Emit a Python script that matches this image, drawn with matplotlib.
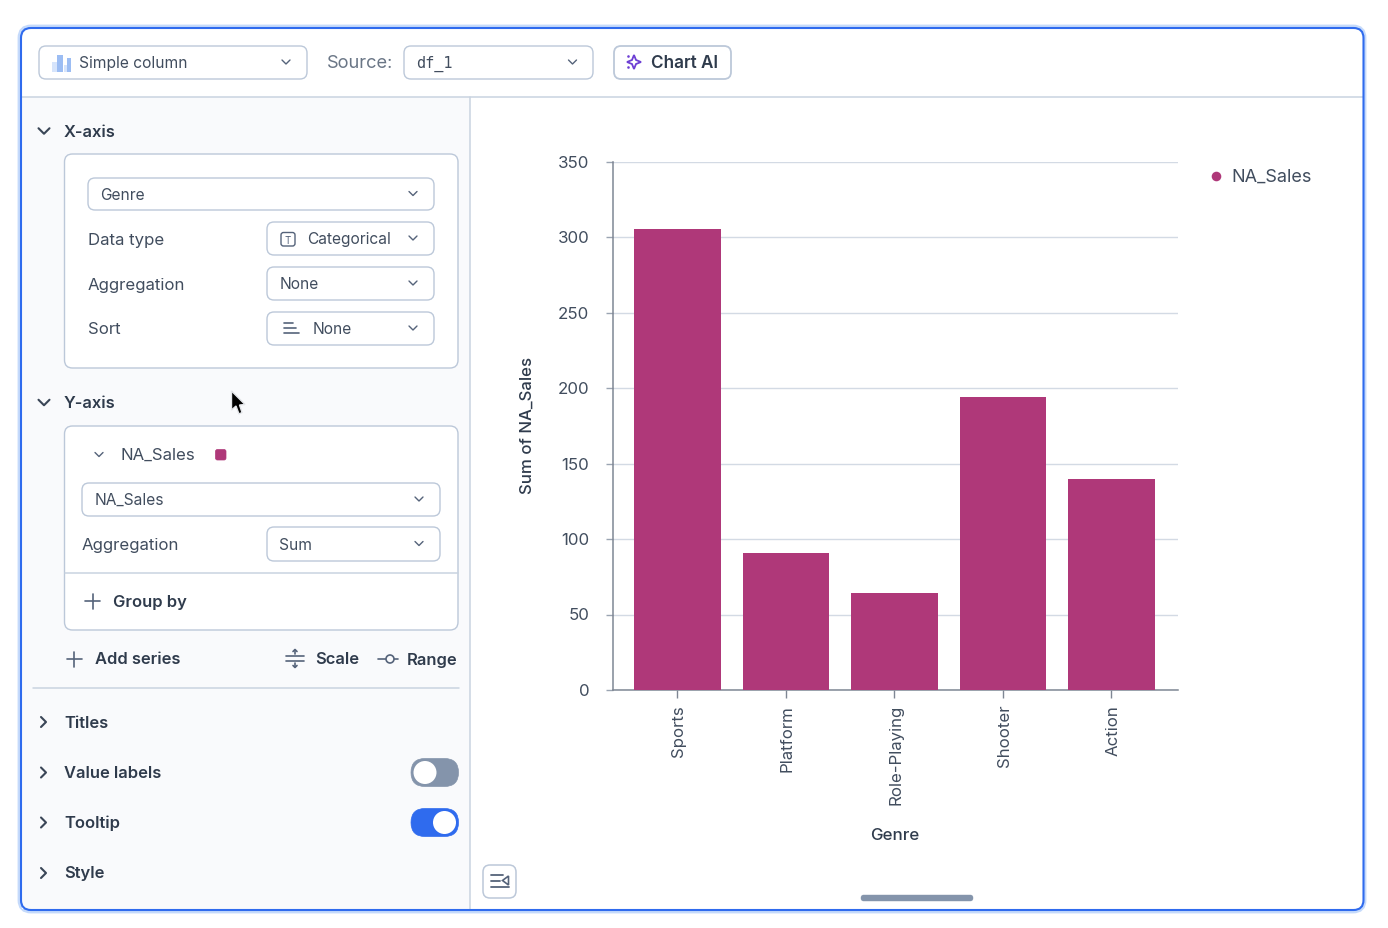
import matplotlib
matplotlib.use("Agg")
import matplotlib.pyplot as plt
from matplotlib.patches import FancyBboxPatch, Rectangle, Circle, Polygon
from matplotlib.transforms import ScaledTranslation

W, H = 1388, 929

plt.rcParams["font.family"] = ["Inter", "DejaVu Sans"]

# chart data
genres = ["Sports", "Platform", "Role-Playing", "Shooter", "Action"]
na_sales = [305.5, 91, 64.5, 194.5, 140]
y_ticks = [0, 50, 100, 150, 200, 250, 300, 350]

BAR = "#AF3879"
BLUE = "#2F6BEE"
BORDER = "#BCC8D9"
LINE = "#C9D3E0"
TXT = "#2F3B4C"
TXT2 = "#414D5E"
GREY = "#8494AB"
PANEL = "#F9FAFC"
ROW = 12.1  # label size in the settings panel
HEAD = 11.9  # semibold headings

fig = plt.figure(figsize=(W / 100, H / 100), dpi=100, facecolor="white")

# overlay in pixel coords for the app chrome
ui = fig.add_axes([0, 0, 1, 1], zorder=0)
ui.set_xlim(0, W)
ui.set_ylim(H - 1, -1)
ui.axis("off")


def rbox(x0, y0, x1, y1, r=7, fc="white", ec=BORDER, lw=1.0, z=2):
    p = FancyBboxPatch((x0 + r, y0 + r), x1 - x0 - 2 * r, y1 - y0 - 2 * r,
                       boxstyle=f"round,pad={r},rounding_size={r}",
                       fc=fc, ec=ec, lw=lw, zorder=z)
    ui.add_patch(p)
    return p


def line(xs, ys, color=GREY, lw=1.2, z=4):
    ui.plot(xs, ys, color=color, lw=lw, zorder=z, solid_capstyle="round",
            solid_joinstyle="round")


def label(x, y, s, size=11, color=TXT2, weight="normal", ha="left", **kw):
    ui.text(x, y, s, fontsize=size, color=color, fontweight=weight, ha=ha,
            va="center", zorder=5, **kw)


def chev_down(x, y, s=4, color="#55637A", lw=1.0):
    line([x - s, x, x + s], [y - s * 0.5, y + s * 0.5, y - s * 0.5], color, lw)


def chev_right(x, y, s=5, color="#3A4657", lw=1.5):
    line([x - s * 0.5, x + s * 0.5, x - s * 0.5], [y - s, y, y + s], color, lw)


def dropdown(x0, y0, x1, y1, s, tx=None, size=11.2):
    rbox(x0, y0, x1, y1)
    label(tx if tx else x0 + 12.5, (y0 + y1) / 2, s, size=size)
    chev_down(x1 - 21, (y0 + y1) / 2 - 0.5)


def plus(x, y, s=7.5, color="#55637A"):
    line([x - s, x + s], [y, y], color, 1.2)
    line([x, x], [y - s, y + s], color, 1.2)


def toggle(x0, x1, y, on):
    col = BLUE if on else GREY
    rbox(x0, y - 14, x1, y + 14, r=14, fc=col, ec=col, lw=0.5)
    ui.add_patch(Circle((x1 - 14 if on else x0 + 14, y), 11.5, fc="white", ec="none", zorder=4))


# outer card
rbox(20, 27, 1364, 911, r=11, fc="none", ec="#C5DAFB", lw=3.5, z=1)
rbox(21, 28, 1363.5, 910, r=10, fc="white", ec="none", lw=0, z=1)
rbox(21, 28, 1363.5, 910, r=10, fc="none", ec=BLUE, lw=1.5, z=6)

# left panel
ui.add_patch(Rectangle((22, 97), 448, 812, fc=PANEL, ec="none", zorder=1.5))
line([22, 1363], [96.5, 96.5], LINE, 1.1, z=2)
line([470.5, 470.5], [97, 909], LINE, 1.1, z=2)

# top toolbar
dropdown(39, 46, 307, 79, "Simple column", tx=79)
ui.add_patch(Rectangle((52, 62), 7, 10, fc="#D6E4FB", ec="none", zorder=4))
ui.add_patch(Rectangle((57, 55), 6, 17, fc="#9CBDF3", ec="none", zorder=4))
ui.add_patch(Rectangle((64, 65), 3.5, 7, fc="#D6E4FB", ec="none", zorder=4))
ui.add_patch(Rectangle((67.5, 58), 4, 14, fc="#9CBDF3", ec="none", zorder=4))
label(327, 62.5, "Source:", size=13.2, color="#6A7686")
rbox(404, 46, 593, 79)
label(416, 62.5, "df_1", size=11, family="DejaVu Sans Mono")
chev_down(572.5, 62)
rbox(614, 46, 731, 79, lw=1.3)
label(651, 62, "Chart AI", size=12.3, color=TXT, weight="semibold")
ui.add_patch(Polygon([(634, 55), (636, 60), (641, 62), (636, 64), (634, 69), (632, 64),
                      (627, 62), (632, 60)], fc="white", ec="#6D3FD4", lw=1.3, zorder=4))
ui.add_patch(Circle((628.5, 56.5), 1.3, fc="#6D3FD4", ec="none", zorder=4))
ui.add_patch(Circle((628.5, 67.5), 1.3, fc="#6D3FD4", ec="none", zorder=4))

# X-axis section
chev_down(44, 131, s=5.5, color="#3A4657", lw=1.5)
label(64, 131, "X-axis", size=HEAD, color=TXT, weight="semibold")
rbox(64.5, 154, 458, 368, r=8)
dropdown(88, 178, 434, 210, "Genre")
label(88, 239, "Data type", size=ROW)
dropdown(267, 222, 434, 255, "Categorical", tx=307.5)
rbox(281, 232.5, 295, 246, r=2.5, ec="#55637A", lw=1, z=4)
label(288, 239.5, "T", size=7, color="#55637A", ha="center")
label(88, 284, "Aggregation", size=ROW)
dropdown(267, 267, 434, 300, "None")
label(88, 328.5, "Sort", size=ROW)
dropdown(267, 312, 434, 345, "None", tx=313)
line([284, 293], [323, 323], "#55637A", 1.2)
line([284, 296], [328, 328], "#55637A", 1.2)
line([284, 299], [333, 333], "#55637A", 1.2)

# Y-axis section
chev_down(44, 402.5, s=5.5, color="#3A4657", lw=1.5)
label(64, 402.5, "Y-axis", size=HEAD, color=TXT, weight="semibold")
rbox(64.5, 426, 458, 630, r=8)
chev_down(99, 454.5, s=4)
label(121, 454.5, "NA_Sales", size=ROW)
rbox(215.5, 449.5, 226, 460, r=2, fc=BAR, ec=BAR, lw=0.5, z=4)
dropdown(82, 483, 440, 516, "NA_Sales")
label(82, 544.5, "Aggregation", size=ROW)
dropdown(267, 527, 440, 561, "Sum")
line([65, 458], [572.5, 572.5], LINE, 1.1)
plus(93, 601)
label(113, 601.5, "Group by", size=HEAD, color=TXT, weight="semibold")

# series actions
plus(74.5, 659)
label(95, 659, "Add series", size=HEAD, color=TXT, weight="semibold")
line([286, 304], [656, 656], "#55637A", 1.2)
line([286, 304], [661, 661], "#55637A", 1.2)
line([295, 295], [650, 654], "#55637A", 1.2)
line([293, 295, 297], [651.5, 649.5, 651.5], "#55637A", 1.2)
line([295, 295], [663, 667], "#55637A", 1.2)
line([293, 295, 297], [665.5, 667.5, 665.5], "#55637A", 1.2)
label(315, 659, "Scale", size=HEAD, color=TXT, weight="semibold")
line([378, 386], [659, 659], "#55637A", 1.2)
line([394, 398], [659, 659], "#55637A", 1.2)
ui.add_patch(Circle((390, 659), 4, fc=PANEL, ec="#55637A", lw=1.2, zorder=4))
label(407, 659, "Range", size=HEAD, color=TXT, weight="semibold")
line([33, 459], [687.5, 687.5], LINE, 1.1)

# collapsed sections
for y, s in [(722, "Titles"), (772.5, "Value labels"), (822.5, "Tooltip"), (873, "Style")]:
    chev_right(43.5, y)
    label(64, y, s, size=HEAD, color=TXT, weight="semibold")
toggle(411, 458.5, 772.5, False)
toggle(411, 458.5, 822.5, True)

# collapse button + scroll handle
rbox(483, 865, 516, 898, r=7, lw=1.1)
for y0, x1 in [(875, 503), (881, 500), (887, 509)]:
    line([491, x1], [y0, y0], "#55637A", 1.3)
ui.add_patch(Polygon([(508.5, 876), (508.5, 885), (502.5, 880.5)], fc="white", ec="#55637A",
                     lw=1.2, zorder=4))
rbox(861, 895, 973, 901, r=2.5, fc=GREY, ec=GREY, lw=0.3)

# legend
ui.add_patch(Circle((1216.5, 176.5), 4.8, fc=BAR, ec="none", zorder=4))
label(1231.5, 176.5, "NA_Sales", size=13)

# cursor
ui.add_patch(Polygon([(231.5, 391), (231.5, 410), (236, 406), (239, 414), (242, 412.5),
                      (239.5, 405), (245, 404.5)], fc="black", ec="#E4E6EA", lw=1.0, zorder=7))

# the actual chart
ax = fig.add_axes([613 / W, 1 - 691 / H, (1178 - 613) / W, (691 - 163) / H], zorder=3)
ax.patch.set_alpha(0)
ax.bar(range(len(genres)), na_sales, width=0.8, color=BAR, zorder=3)
ax.set_xlim(-0.594, 4.613)
ax.set_ylim(0, 350)
ax.set_yticks(y_ticks)
ax.set_xticks(range(len(genres)))
ax.set_xticklabels(genres, rotation=90)
ax.yaxis.grid(True, color="#D3DAE4", lw=1, zorder=1)
ax.set_axisbelow(True)
for side in ["top", "right"]:
    ax.spines[side].set_visible(False)
for side in ["left", "bottom"]:
    ax.spines[side].set_color("#7F8794")
    ax.spines[side].set_linewidth(1.1)
ax.tick_params(axis="y", length=5, width=1, color="#9AA4B2", labelsize=12.2, labelcolor=TXT2, pad=12)
ax.tick_params(axis="x", length=6, width=1, color="#7F8794", labelsize=12.1, labelcolor=TXT2, pad=4)

# nudge tick labels a pixel or so onto the reference positions
for t in ax.get_yticklabels():
    t.set_transform(t.get_transform() + ScaledTranslation(0, 1.2 / 100, fig.dpi_scale_trans))
for t in ax.get_xticklabels():
    t.set_transform(t.get_transform() + ScaledTranslation(1.5 / 100, 0, fig.dpi_scale_trans))

ax.set_xlabel("Genre", fontsize=12.2, color=TXT, fontweight="medium")
ax.xaxis.set_label_coords((895 - 613) / (1178 - 613), (691 - 835) / (691 - 163), transform=ax.transAxes)
ax.xaxis.label.set_verticalalignment("center")
ax.set_ylabel("Sum of NA_Sales", fontsize=12.1, color=TXT, fontweight="medium")
ax.yaxis.set_label_coords((527.5 - 613) / (1178 - 613), (691 - 425) / (691 - 163), transform=ax.transAxes)
ax.yaxis.label.set_verticalalignment("center")

fig.savefig("out.png", dpi=100)
